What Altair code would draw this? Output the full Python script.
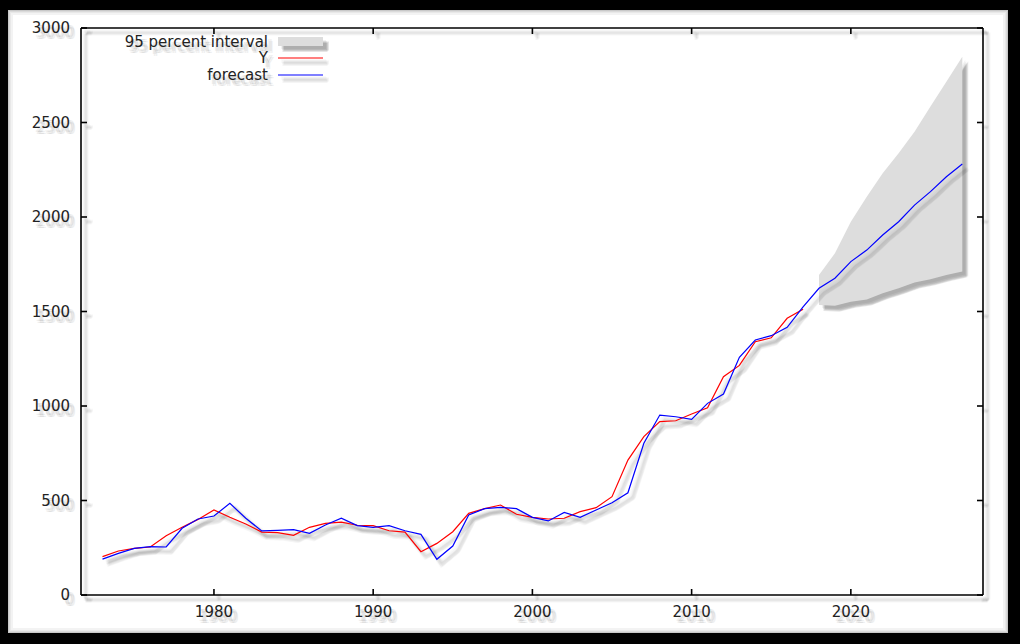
import altair as alt
import pandas as pd

# ---- data -------------------------------------------------------------
years = list(range(1973, 2028))
y_years = list(range(1973, 2018))
y_actual = [
    203, 233, 247, 254, 314, 358, 400, 450, 411, 376,
    333, 330, 316, 358, 379, 386, 369, 367, 340, 333,
    229, 273, 335, 432, 457, 476, 427, 411, 402, 406,
    441, 462, 520, 714, 838, 917, 922, 958, 990, 1155,
    1215, 1340, 1361, 1464, 1512,
]
forecast = [
    190, 220, 247, 256, 254, 353, 402, 418, 485, 406,
    339, 342, 346, 326, 370, 406, 367, 358, 367, 340,
    321, 189, 259, 423, 457, 464, 457, 411, 392, 437,
    411, 450, 488, 541, 803, 952, 943, 929, 1014, 1063,
    1258, 1349, 1372, 1416, 1525, 1623, 1676, 1764, 1825, 1905,
    1975, 2063, 2134, 2213, 2280,
]
band_years = list(range(2018, 2028))
band_lo = [1534, 1531, 1552, 1564, 1596, 1623, 1653, 1670, 1693, 1711]
band_hi = [1693, 1808, 1975, 2107, 2231, 2337, 2451, 2584, 2716, 2848]

x_ticks = [1980, 1990, 2000, 2010, 2020]
y_ticks = [0, 500, 1000, 1500, 2000, 2500, 3000]
legend_labels = ["95 percent interval", "Y", "forecast"]

# ---- layout / style ---------------------------------------------------
W, H = 902, 567
FONT = "DejaVu Sans"
FS = 15
TXT = "#222222"
RED = "#ff0000"
BLUE = "#0000ff"
BAND = "#dddddd"

SH_OFF = [(3, 3), (4, 4), (5, 5), (4, 6), (6, 4), (5, 6), (6, 5)]
TXT_SH_OFF = [(3, 4), (5, 4), (4, 6), (6, 6)]

xs = alt.Scale(domain=[1971.65, 2028.3], nice=False, zero=False)
ys = alt.Scale(domain=[0, 3000], nice=False, zero=True)
X = lambda f="year": alt.X(f"{f}:Q", scale=xs, axis=None)
Y = lambda f="value": alt.Y(f"{f}:Q", scale=ys, axis=None)

df_y = pd.DataFrame({"year": y_years, "value": y_actual})
df_fc = pd.DataFrame({"year": years, "value": forecast})
df_band = pd.DataFrame({"year": band_years, "lo": band_lo, "hi": band_hi})
df_xt = pd.DataFrame({"year": x_ticks, "label": [str(t) for t in x_ticks]})
df_yt = pd.DataFrame({"value": y_ticks, "label": [str(t) for t in y_ticks]})
one = pd.DataFrame({"k": [0]})

layers = []

# page panel: white sheet with soft grey edge on black
panel = [(-73, -18, W + 25, H + 38, "#c8c8c8"),
         (-72, -17, W + 24, H + 37, "#dadada"),
         (-71, -16, W + 23, H + 36, "#e8e8e8"),
         (-70, -15, W + 22, H + 35, "#f3f3f3"),
         (-68, -13, W + 20, H + 33, "#ffffff")]
for x0, y0, x1, y1, c in panel:
    layers.append(alt.Chart(one).mark_rect(color=c).encode(
        x=alt.value(x0), x2=alt.value(x1), y=alt.value(y0), y2=alt.value(y1)))

# forecast interval with its shadow
for dx, dy in SH_OFF:
    layers.append(alt.Chart(df_band).mark_area(
        color="black", opacity=0.05, xOffset=dx, yOffset=dy, x2Offset=dx,
        y2Offset=dy).encode(x=X(), y=Y("lo"), y2=alt.Y2("hi")))
layers.append(alt.Chart(df_band).mark_area(color=BAND, opacity=1).encode(
    x=X(), y=Y("lo"), y2=alt.Y2("hi")))

# series shadows, then series
for df in (df_y, df_fc):
    for dx, dy in SH_OFF:
        layers.append(alt.Chart(df).mark_line(
            color="black", opacity=0.018, strokeWidth=4,
            xOffset=dx, yOffset=dy).encode(x=X(), y=Y()))
layers.append(alt.Chart(df_y).mark_line(color=RED, strokeWidth=1.2).encode(x=X(), y=Y()))
layers.append(alt.Chart(df_fc).mark_line(color=BLUE, strokeWidth=1.2).encode(x=X(), y=Y()))

# frame and inward ticks
def frame_rules(color, width, opacity, dx=0, dy=0):
    out = []
    segs = [(0, 0, 0, H), (0, H, W, H), (W, 0, W, H), (0, 0, W, 0)]
    for a, b, c, d in segs:
        out.append(alt.Chart(one).mark_rule(
            color=color, strokeWidth=width, opacity=opacity).encode(
            x=alt.value(a + dx), y=alt.value(b + dy),
            x2=alt.value(c + dx), y2=alt.value(d + dy)))
    out.append(alt.Chart(df_xt).mark_rule(
        color=color, strokeWidth=width, opacity=opacity, xOffset=dx).encode(
        x=X(), y=alt.value(H + dy), y2=alt.value(H - 6 + dy)))
    out.append(alt.Chart(df_xt).mark_rule(
        color=color, strokeWidth=width, opacity=opacity, xOffset=dx).encode(
        x=X(), y=alt.value(0 + dy), y2=alt.value(6 + dy)))
    out.append(alt.Chart(df_yt).mark_rule(
        color=color, strokeWidth=width, opacity=opacity, yOffset=dy).encode(
        y=Y(), x=alt.value(0 + dx), x2=alt.value(6 + dx)))
    out.append(alt.Chart(df_yt).mark_rule(
        color=color, strokeWidth=width, opacity=opacity, yOffset=dy).encode(
        y=Y(), x=alt.value(W + dx), x2=alt.value(W - 6 + dx)))
    return out

for dx, dy in SH_OFF:
    layers += frame_rules("black", 3, 0.02, dx, dy)
layers += frame_rules("black", 1.6, 1)

# text with a soft drop shadow underneath
def shadowed_text(make):
    out = [make("black", 0.06, dx, dy) for dx, dy in TXT_SH_OFF]
    out.append(make(TXT, 1, 0, 0))
    return out

layers += shadowed_text(lambda c, o, dx, dy: alt.Chart(df_xt).mark_text(
    font=FONT, fontSize=FS, color=c, opacity=o, dx=dx, dy=dy,
    baseline="middle", align="center").encode(
    x=X(), y=alt.value(H + 17), text="label:N"))
layers += shadowed_text(lambda c, o, dx, dy: alt.Chart(df_yt).mark_text(
    font=FONT, fontSize=FS, color=c, opacity=o, dx=dx, dy=dy,
    baseline="middle", align="right").encode(
    y=Y(), x=alt.value(-11), text="label:N"))

# key: labels right-aligned, swatches to their right
key_y = [14, 30, 47]
for i, lab in enumerate(legend_labels):
    layers += shadowed_text(lambda c, o, dx, dy, lab=lab, i=i: alt.Chart(one).mark_text(
        font=FONT, fontSize=FS, color=c, opacity=o, dx=dx, dy=dy,
        baseline="middle", align="right").encode(
        x=alt.value(187), y=alt.value(key_y[i]), text=alt.value(lab)))

for dx, dy in SH_OFF:
    layers.append(alt.Chart(one).mark_rect(color="black", opacity=0.05).encode(
        x=alt.value(197 + dx), x2=alt.value(242 + dx),
        y=alt.value(9 + dy), y2=alt.value(18 + dy)))
    for i in (1, 2):
        layers.append(alt.Chart(one).mark_rule(
            color="black", opacity=0.018, strokeWidth=4).encode(
            x=alt.value(197 + dx), x2=alt.value(242 + dx),
            y=alt.value(key_y[i] + dy)))
layers.append(alt.Chart(one).mark_rect(color=BAND).encode(
    x=alt.value(197), x2=alt.value(242), y=alt.value(9), y2=alt.value(18)))
layers.append(alt.Chart(one).mark_rule(color=RED, strokeWidth=1.2).encode(
    x=alt.value(197), x2=alt.value(242), y=alt.value(key_y[1])))
layers.append(alt.Chart(one).mark_rule(color=BLUE, strokeWidth=1.2).encode(
    x=alt.value(197), x2=alt.value(242), y=alt.value(key_y[2])))

chart = alt.layer(*layers).properties(
    width=W, height=H,
    autosize=alt.AutoSizeParams(type="none"),
    padding={"left": 81, "top": 28, "right": 37, "bottom": 49},
    background="black",
).configure_view(stroke=None)

chart.save("out.html", embed_options={"renderer": "svg", "actions": False})
